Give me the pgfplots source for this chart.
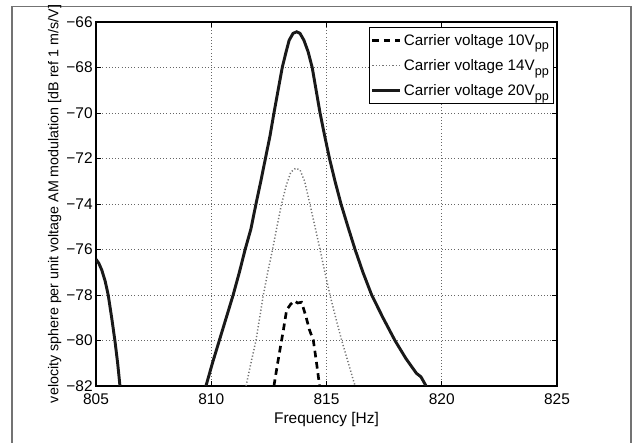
\documentclass[border=0pt]{standalone}
\usepackage{pgfplots}
\pgfplotsset{compat=1.18}
\usepackage{fontspec}
\setmainfont{Liberation Sans}
\begin{document}
\begin{tikzpicture}[font=\fontsize{11.4}{13.5}\selectfont]
\path[use as bounding box] (-72pt,-42.75pt) rectangle (402.75pt,289.5pt);
\draw[black!55, line width=1pt] (-63pt,-60pt) -- (-63pt,284.6pt) -- (401.25pt,284.6pt) -- (401.25pt,-60pt);
\begin{axis}[
  scale only axis,
  width=345.75pt, height=273pt,
  xmin=805, xmax=825, ymin=-82, ymax=-66,
  xtick={805,810,815,820,825},
  ytick={-82,-80,-78,-76,-74,-72,-70,-68,-66},
  yticklabels={−82,−80,−78,−76,−74,−72,−70,−68,−66},
  xticklabels={805,810,815,820,825},
  tick align=inside,
  tick pos=both,
  major tick length=4pt,
  tick style={black, line width=0.6pt},
  axis line style={line width=0.8pt},
  grid=major,
  grid style={dotted, black!60, line width=0.5pt},
  xlabel={Frequency [Hz]},
  ylabel={velocity sphere per unit voltage AM modulation [dB ref 1 m/s/V]},
  tick label style={font=\fontsize{11.6}{13.5}\selectfont},
  xlabel style={font=\fontsize{11.6}{13.5}\selectfont, yshift=1pt},
  ylabel style={font=\fontsize{10.7}{13}\selectfont, yshift=-3pt},
  yticklabel style={xshift=1pt},
  xticklabel style={yshift=-2pt},
  legend style={at={(0.992,0.986)}, anchor=north east, draw=black, line width=0.6pt,
    font=\fontsize{11.4}{13.5}\selectfont, row sep=5pt, inner xsep=1pt, inner ysep=3pt},
  legend cell align=left,
  legend image code/.code={\draw[#1] (0pt,0pt) -- (0.72cm,0pt);},
]
\addplot[black, line width=2pt, dash pattern=on 5pt off 3.5pt] coordinates {
(812.72,-82) (812.88,-81) (813.05,-80) (813.13,-79.54) (813.27,-78.66) (813.45,-78.4)
(813.6,-78.26) (813.75,-78.35) (813.92,-78.32) (814.11,-78.95) (814.25,-79.5)
(814.43,-80) (814.57,-81) (814.7,-82)
};
\addlegendentry{Carrier voltage 10V\raisebox{-0.6ex}{\fontsize{9.5}{10}\selectfont pp}}
\addplot[black!55, line width=1.1pt, dash pattern=on 0.9pt off 1.6pt] coordinates {
(811.51,-82) (811.72,-81) (811.94,-80) (812.1,-79) (812.26,-78) (812.45,-77) (812.66,-76)
(812.85,-75) (813.05,-74) (813.25,-73.2) (813.45,-72.6) (813.66,-72.43) (813.85,-72.5)
(814.05,-73) (814.28,-74) (814.5,-75) (814.72,-76) (814.93,-77) (815.15,-78)
(815.4,-79) (815.66,-80) (815.95,-81) (816.24,-82)
};
\addlegendentry{Carrier voltage 14V\raisebox{-0.6ex}{\fontsize{9.5}{10}\selectfont pp}}
\addplot[black!90, line width=2.2pt] coordinates {
(805,-76.43) (805.12,-76.6) (805.25,-76.9) (805.4,-77.4) (805.53,-78) (805.68,-79)
(805.82,-80) (805.94,-81) (806.04,-82) (806.2,-84) (809.5,-84)
(809.77,-82) (810.05,-81) (810.35,-80) (810.65,-79) (810.95,-78) (811.22,-77)
(811.47,-76) (811.72,-75.1) (811.94,-74) (812.15,-73) (812.35,-72) (812.55,-71)
(812.72,-70) (812.9,-69) (813.08,-68) (813.25,-67.3) (813.38,-66.8) (813.55,-66.5)
(813.71,-66.43) (813.85,-66.5) (814.02,-66.8) (814.2,-67.3) (814.38,-68) (814.55,-69)
(814.72,-70) (814.92,-71) (815.13,-72) (815.37,-73) (815.63,-74) (815.93,-75)
(816.24,-76) (816.58,-77) (816.96,-78) (817.45,-79) (817.97,-80) (818.45,-80.8)
(818.9,-81.44) (819.1,-81.6) (819.32,-82) (819.5,-84)
};
\addlegendentry{Carrier voltage 20V\raisebox{-0.6ex}{\fontsize{9.5}{10}\selectfont pp}}
\end{axis}
\end{tikzpicture}
\end{document}
